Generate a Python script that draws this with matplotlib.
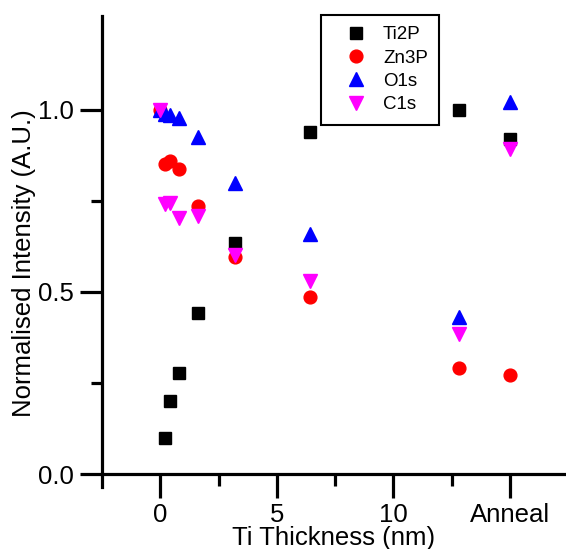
import matplotlib
matplotlib.use("Agg")
import matplotlib.pyplot as plt
from matplotlib.ticker import FixedLocator

plt.rcParams.update({
    "font.family": ["Liberation Sans", "DejaVu Sans"],
    "font.size": 18.5,
})

# Ti thickness in nm; "Anneal" is put at x = 15
ti2p_x = [0.2, 0.4, 0.8, 1.6, 3.2, 6.4, 12.8, 15]
ti2p_y = [0.10, 0.20, 0.278, 0.442, 0.635, 0.94, 1.0, 0.92]

thick = [0, 0.2, 0.4, 0.8, 1.6, 3.2, 6.4, 12.8, 15]
zn3p_y = [1.0, 0.852, 0.86, 0.838, 0.735, 0.595, 0.485, 0.29, 0.273]
o1s_y = [1.0, 0.988, 0.985, 0.977, 0.925, 0.80, 0.66, 0.43, 1.02]
c1s_y = [1.0, 0.742, 0.745, 0.704, 0.707, 0.60, 0.53, 0.385, 0.893]

xticks = [0, 5, 10, 15]
xticklabels = ["0", "5", "10", "Anneal"]

fig = plt.figure(figsize=(5.66, 5.49), dpi=100)
ax = fig.add_axes([102 / 566, 62 / 549, 464 / 566, 471 / 549])

ax.plot(ti2p_x, ti2p_y, "s", color="black", ms=8.3, ls="none", label="Ti2P")
ax.plot(thick, zn3p_y, "o", color="#FF0000", ms=9.2, ls="none", label="Zn3P")
ax.plot(thick, o1s_y, "^", color="#0000FF", ms=10.5, ls="none", label="O1s")
ax.plot(thick, c1s_y, "v", color="#FF00FF", ms=10.5, ls="none", label="C1s")

ax.set_xlim(-2.5, 17.4)
ax.set_ylim(-0.0355, 1.257)

for s in ("top", "right"):
    ax.spines[s].set_visible(False)
ax.spines["bottom"].set_position(("data", 0))
for s in ("left", "bottom"):
    ax.spines[s].set_linewidth(2.3)

ax.set_xticks(xticks)
ax.set_xticklabels(xticklabels)
ax.xaxis.set_minor_locator(FixedLocator([2.5, 7.5, 12.5]))
ax.set_yticks([0, 0.5, 1.0])
ax.set_yticklabels(["0.0", "0.5", "1.0"])
ax.yaxis.set_minor_locator(FixedLocator([0.25, 0.75]))

ax.tick_params(axis="x", which="major", direction="out", length=17, width=2.3, pad=3.5)
ax.tick_params(axis="x", which="minor", direction="out", length=8.6, width=2.3)
ax.tick_params(axis="y", which="major", direction="out", length=16, width=2.3, pad=4)
ax.tick_params(axis="y", which="minor", direction="out", length=8, width=2.3)

ax.set_xlabel("Ti Thickness (nm)")
ax.xaxis.set_label_coords(0.5, -0.083)
ax.set_ylabel("Normalised Intensity (A.U.)")
ax.yaxis.set_label_coords(-0.142, 0.476)

leg = ax.legend(loc="upper left", bbox_to_anchor=(321 / 566, 534 / 549),
                bbox_transform=fig.transFigure, fontsize=13.5, frameon=True,
                fancybox=False, framealpha=1, edgecolor="black",
                borderaxespad=0, borderpad=0.6, handlelength=2.53,
                handletextpad=0.17, labelspacing=0.33)
leg.get_frame().set_linewidth(1.5)

fig.savefig("out.png", dpi=100)
